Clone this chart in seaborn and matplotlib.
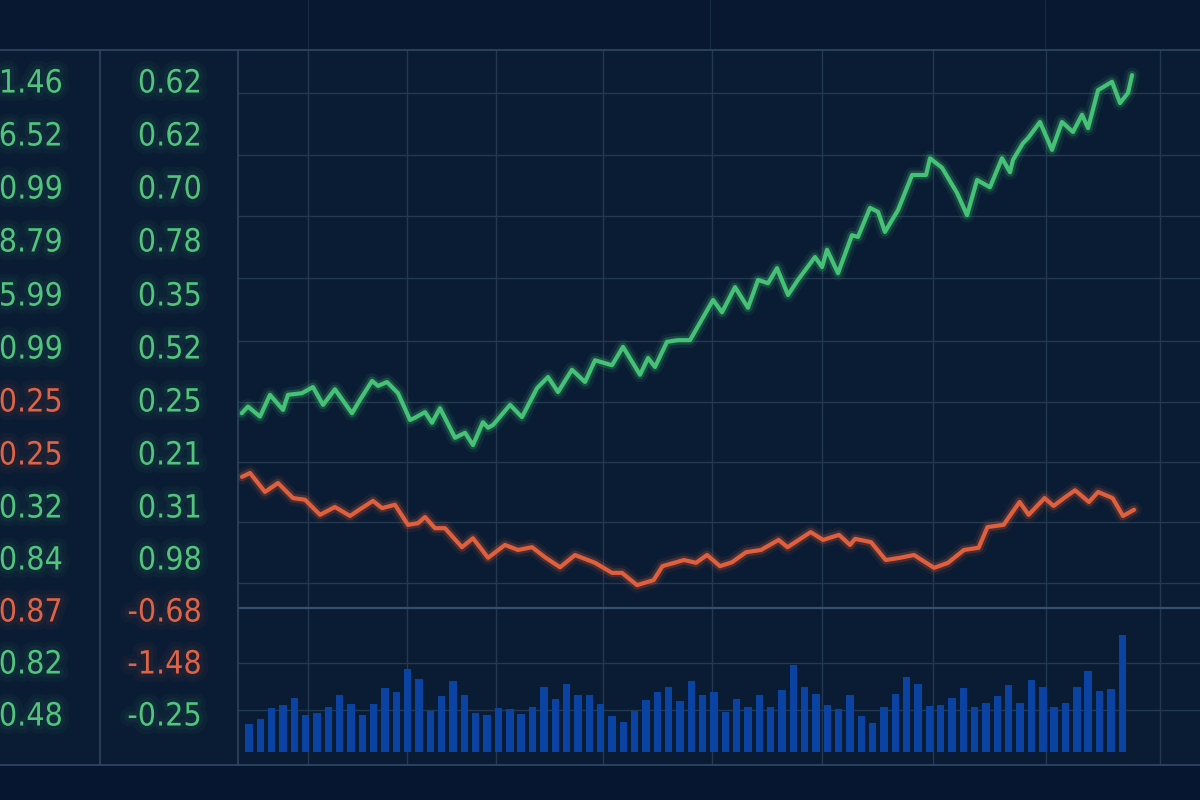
import numpy as np
import pandas as pd
import matplotlib
matplotlib.use("Agg")
import matplotlib.pyplot as plt
import seaborn as sns
from matplotlib import patheffects as pe
from matplotlib import font_manager as fm
from matplotlib.lines import Line2D

# ---------------- data ----------------
# Ticker table (two columns of quotes on the left)
quote_col1 = ["1.46", "6.52", "0.99", "8.79", "5.99", "0.99", "0.25",
              "0.25", "0.32", "0.84", "0.87", "0.82", "0.48"]
quote_col1_dir = ["up", "up", "up", "up", "up", "up", "down",
                  "down", "up", "up", "down", "up", "up"]
quote_col2 = ["0.62", "0.62", "0.70", "0.78", "0.35", "0.52", "0.25",
              "0.21", "0.31", "0.98", "-0.68", "-1.48", "-0.25"]
quote_col2_dir = ["up", "up", "up", "up", "up", "up", "up",
                  "up", "up", "up", "down", "down", "up"]

# Green (rising) series: time (in bar units) and value
green_t = [-0.64, -0.09, 0.97, 1.85, 3.00, 3.44, 4.67, 5.64, 6.53, 7.58, 9.08,
           9.79, 10.85, 11.38, 12.17, 13.14, 14.20, 14.64, 15.52, 16.14, 16.84,
           18.17, 19.05, 19.75, 20.63, 21.08, 21.52, 23.02, 24.07, 25.40, 26.37,
           27.25, 28.48, 29.63, 30.51, 32.01, 32.98, 34.48, 35.19, 35.80, 36.86,
           37.83, 38.89, 40.92, 41.71, 42.86, 44.00, 44.89, 45.77, 46.56, 47.53,
           48.41, 49.91, 50.53, 50.97, 51.94, 53.17, 53.70, 54.76, 55.47, 56.08,
           57.23, 58.47, 59.70, 60.05, 61.11, 62.43, 63.32, 64.20, 65.34, 66.40,
           67.11, 67.37, 68.25, 68.69, 69.75, 70.81, 71.69, 72.66, 73.46, 73.99,
           74.87, 76.10, 76.81, 77.51, 77.87]
green_v = [34.9, 36.1, 34.3, 38.2, 35.5, 38.2, 38.5, 39.6, 36.4, 39.2, 34.9,
           37.3, 40.7, 39.8, 40.5, 38.5, 33.7, 34.1, 35.1, 33.2, 35.8,
           30.5, 31.4, 29.2, 33.3, 32.3, 32.8, 36.4, 34.2, 39.4, 41.4,
           38.7, 42.7, 40.5, 44.4, 43.5, 46.8, 41.8, 44.8, 43.2, 47.7,
           48.0, 48.0, 55.2, 53.0, 57.5, 53.8, 58.8, 58.2, 60.9, 56.1,
           58.8, 62.9, 61.1, 64.2, 60.0, 66.8, 66.5, 71.7, 71.0, 67.4,
           71.3, 77.6, 77.6, 80.6, 78.9, 74.4, 70.4, 76.7, 75.4, 80.6,
           78.1, 80.3, 83.3, 84.2, 87.1, 82.1, 87.1, 85.3, 88.4, 86.0,
           92.8, 94.3, 90.5, 92.3, 95.5]

# Red (falling then recovering) series
red_t = [-0.62, 0.09, 1.41, 2.56, 3.88, 4.94, 6.26, 7.58, 8.91, 9.79, 10.93,
         11.73, 12.87, 14.02, 14.90, 15.52, 16.40, 17.28, 18.78, 19.75, 21.08,
         22.57, 23.72, 24.96, 26.10, 27.43, 28.75, 30.51, 32.01, 32.89, 34.22,
         35.68, 36.46, 38.36, 39.42, 40.39, 41.53, 42.59, 43.83, 45.15, 46.70,
         47.49, 49.53, 50.62, 52.03, 53.00, 53.44, 54.85, 56.15, 57.41, 58.64,
         60.41, 61.64, 63.05, 64.34, 65.12, 66.54, 67.95, 68.75, 70.16, 70.95,
         71.87, 72.84, 74.07, 74.87, 76.15, 77.07, 78.04]
red_v = [23.5, 24.2, 20.8, 22.4, 19.7, 19.4, 16.7, 18.1, 16.5, 17.7, 19.2,
         17.9, 18.5, 14.9, 15.2, 16.3, 14.3, 14.3, 10.9, 12.5, 9.0,
         11.3, 10.4, 10.9, 9.1, 7.3, 9.5, 8.1, 6.3, 6.3, 4.1,
         5.0, 7.5, 8.6, 8.1, 9.5, 7.5, 8.2, 10.0, 10.4, 12.2,
         10.9, 13.6, 12.2, 13.1, 11.3, 12.4, 11.8, 8.6, 9.0, 9.5,
         7.2, 8.1, 10.4, 10.8, 14.5, 14.9, 19.0, 16.7, 19.7, 18.3,
         19.7, 21.1, 19.0, 20.8, 19.7, 16.5, 17.6]

# Volume bars
volume = [28, 33, 44, 47, 54, 37, 39, 45, 57, 48, 37, 48, 64, 60, 83, 73,
          41, 56, 71, 57, 39, 37, 44, 43, 38, 45, 65, 53, 68, 57, 57, 48,
          36, 30, 41, 52, 60, 65, 51, 71, 57, 60, 40, 53, 45, 57, 45, 62,
          87, 65, 58, 47, 43, 57, 36, 29, 45, 58, 75, 68, 46, 47, 54, 64,
          45, 49, 56, 67, 49, 72, 65, 45, 49, 65, 81, 61, 63, 117]
bar_index = list(range(len(volume)))

# ---------------- style ----------------
BG = "#0a1c33"
TOP_BG = "#071830"
GRID = "#22394f"
SEP = "#2c4560"
GREEN = "#45c276"
RED = "#e0603d"
TXT_GREEN = "#52c47c"
TXT_RED = "#dd6446"
BAR = "#0b43a3"

sns.set_theme(style="dark")

names = {f.name for f in fm.fontManager.ttflist}
if "Liberation Sans Narrow" in names:
    QFONT = dict(family=["Liberation Sans Narrow", "DejaVu Sans"])
    QSIZE = 27
else:
    QFONT = dict(family=["DejaVu Sans"], stretch="condensed")
    QSIZE = 23

W, H = 1200, 800
fig = plt.figure(figsize=(12, 8), dpi=100)
fig.patch.set_facecolor(BG)

def fx(px):
    return px / W

def fy(py):
    return 1 - py / H

# top band
band = fig.add_axes([0, fy(50), 1, 50 / H])
band.set_facecolor(TOP_BG)
band.set_xticks([]); band.set_yticks([])
for s in band.spines.values():
    s.set_visible(False)
# bottom band
bband = fig.add_axes([0, 0, 1, 35 / H])
bband.set_facecolor("#061630")
bband.set_xticks([]); bband.set_yticks([])
for s in bband.spines.values():
    s.set_visible(False)

# price axes
ax = fig.add_axes([fx(238), fy(608), fx(962), 558 / H])
axv = fig.add_axes([fx(238), fy(765), fx(962), 157 / H])

x_lim = (-0.97, 83.86)
x_grid = [5.20, 13.93, 21.78, 31.22, 40.83, 50.53, 60.32, 70.28, 80.34]
price_grid = [4.5, 15.4, 26.2, 36.9, 47.8, 59.1, 70.3, 81.2, 92.3]

for a in (ax, axv):
    a.set_facecolor(BG)
    for s in a.spines.values():
        s.set_visible(False)

glow_g = [pe.Stroke(linewidth=11, foreground=GREEN, alpha=0.08),
          pe.Stroke(linewidth=6.5, foreground=GREEN, alpha=0.22), pe.Normal()]
glow_r = [pe.Stroke(linewidth=11, foreground=RED, alpha=0.08),
          pe.Stroke(linewidth=6.5, foreground=RED, alpha=0.22), pe.Normal()]

df_g = pd.DataFrame({"t": green_t, "v": green_v})
df_r = pd.DataFrame({"t": red_t, "v": red_v})
sns.lineplot(data=df_g, x="t", y="v", ax=ax, color=GREEN, lw=3.0,
             sort=False, estimator=None)
sns.lineplot(data=df_r, x="t", y="v", ax=ax, color=RED, lw=3.0,
             sort=False, estimator=None)
ax.lines[0].set_path_effects(glow_g)
ax.lines[1].set_path_effects(glow_r)
ax.lines[0].set_solid_joinstyle("round")
ax.lines[1].set_solid_joinstyle("round")

ax.set_xlim(*x_lim)
ax.set_ylim(0, 100)
ax.set_xticks(x_grid)
ax.set_yticks(price_grid)
ax.grid(True, color=GRID, lw=1.0)
ax.tick_params(length=0, labelbottom=False, labelleft=False)
ax.set_xlabel(""); ax.set_ylabel("")

df_v = pd.DataFrame({"i": bar_index, "vol": volume})
sns.barplot(data=df_v, x="i", y="vol", ax=axv, color=BAR, saturation=1,
            native_scale=True, width=0.65, linewidth=0)
axv.set_xlim(*x_lim)
axv.set_ylim(-13, 144)
axv.set_xticks(x_grid)
axv.set_yticks([42, 89])
axv.grid(True, color=GRID, lw=1.0)
axv.set_axisbelow(True)
axv.tick_params(length=0, labelbottom=False, labelleft=False)
axv.set_xlabel(""); axv.set_ylabel("")

# separator lines
def hline(y, x0, x1, color=SEP, lw=1.3):
    fig.add_artist(Line2D([fx(x0), fx(x1)], [fy(y), fy(y)], color=color, lw=lw,
                          transform=fig.transFigure))

def vline(x, y0, y1, color=SEP, lw=1.2, alpha=1.0):
    fig.add_artist(Line2D([fx(x), fx(x)], [fy(y0), fy(y1)], color=color, lw=lw,
                          alpha=alpha, transform=fig.transFigure))

hline(50, 0, 1200)
hline(765, 0, 1200)
hline(608, 238, 1200, color="#34506c", lw=1.6)
vline(100, 50, 765)
vline(238, 50, 765)
for xp in (308, 710, 1045):
    vline(xp, 0, 48, color=GRID, lw=0.8, alpha=0.6)

# quote columns
row_centers = [81, 134, 187, 240, 294, 347, 400, 453, 506, 558, 610, 662, 714]

def put(col, dirs, x_right):
    for txt, d, yc in zip(col, dirs, row_centers):
        c = TXT_GREEN if d == "up" else TXT_RED
        fig.text(fx(x_right), fy(yc + 11.5), txt, ha="right", va="baseline",
                 color=c, fontsize=QSIZE, **QFONT,
                 path_effects=[pe.Stroke(linewidth=12, foreground=c, alpha=0.04),
                               pe.Stroke(linewidth=6, foreground=c, alpha=0.05),
                               pe.Normal()])

put(quote_col1, quote_col1_dir, 63)
put(quote_col2, quote_col2_dir, 202)

fig.savefig("out.png", dpi=100, facecolor=fig.get_facecolor())
